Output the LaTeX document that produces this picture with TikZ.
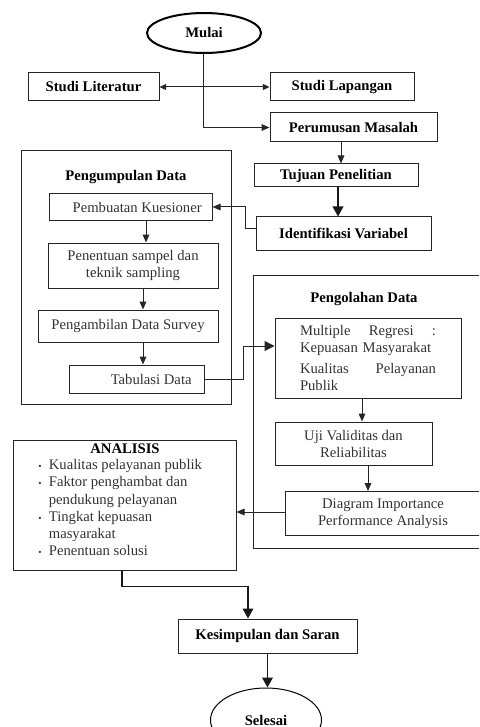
\documentclass[tikz,border=0pt]{standalone}
\usepackage{fontspec}
\setmainfont{Liberation Serif}
\usetikzlibrary{arrows.meta,shapes.geometric,calc}
\begin{document}
\begin{tikzpicture}[x=0.75pt,y=-0.75pt,
  every node/.style={font=\fontsize{11}{12.75}\selectfont},
  box/.style 2 args={draw=black!85, line width=0.75pt, minimum width=#1*0.75pt, minimum height=#2*0.75pt, inner sep=0pt, align=center},
  oval/.style 2 args={ellipse, draw=black, minimum width=#1*0.75pt, minimum height=#2*0.75pt, inner sep=0pt},
  bf/.style={font=\fontsize{11}{12.75}\selectfont\bfseries, text=black},
  rg/.style={text=black!80},
  ln/.style={draw=black!85, line width=0.75pt},
  arr/.style={ln, -{Triangle[length=6pt,width=5pt]}},
  darr/.style={ln, {Triangle[length=5pt,width=4.5pt]}-{Triangle[length=5pt,width=4.5pt]}},
  bigtip/.style={ln, -{Triangle[length=7.5pt,width=7.5pt]}},
  tarr/.style={draw=black!90, line width=1.1pt, -{Triangle[length=7.5pt,width=8pt]}},
]
\useasboundingbox (0,0) rectangle (479,727);
\clip (0,0) rectangle (479,727);

% top part
\node[oval={114}{40}, line width=1.5pt, bf] (start) at (204,33) {Mulai};
\node[box={131}{28}, bf] (SL) at (93.5,87) {Studi Literatur};
\node[box={144}{28}, bf] (SP) at (342,87) {Studi Lapangan};
\node[box={167}{29}, bf] (PM) at (353.5,127.5) {Perumusan Masalah};
\node[box={164}{23}, bf] (TP) at (336,175.5) {Tujuan Penelitian};
\node[box={175}{33}, bf] (IV) at (343.5,233.5) {Identifikasi Variabel};

% Pengumpulan Data group
\node[box={210}{253}] (G1) at (126,277.5) {};
\node[bf] (G1t) at (126,177) {Pengumpulan Data};
\node[box={163}{26}, rg] (PK) at (130.5,207) {\hspace*{10pt}Pembuatan Kuesioner};
\node[box={170}{45}, rg] (PS) at (133,265.5) {Penentuan sampel dan\\teknik sampling};
\node[box={180}{32}, rg] (PDS) at (128,326) {Pengambilan Data Survey};
\node[box={135}{28}, rg] (TD) at (136.5,379) {\hspace*{22pt}Tabulasi Data};

% Pengolahan Data group
\node[box={237}{273}] (G2) at (371.5,411.5) {};
\node[bf] (G2t) at (364,299) {Pengolahan Data};
\node[box={186}{80}, rg, align=left, text width=102pt] (MR) at (368,358)
  {Multiple\hfill Regresi\hfill :\\ Kepuasan Masyarakat\\[3pt] Kualitas\hfill Pelayanan\\ Publik};
\node[box={157}{43}, rg] (UV) at (353.5,443.5) {Uji Validitas dan\\Reliabilitas};
\node[box={196}{44}, rg] (DI) at (383,513.5) {Diagram Importance\\Performance Analysis};

% Analisis
\node[box={223}{130}] (AN) at (124.5,505) {};
\node[bf] (ANt) at (125,449) {ANALISIS};
\node[rg, anchor=base west, inner sep=0pt, font=\fontsize{11}{12.9}\selectfont] (ANl) at (38,469.7)
  {\begin{tabular}[t]{@{}l@{\hspace{5.5pt}}l@{}}
   {\scriptsize\textbullet} & Kualitas pelayanan publik\\
   {\scriptsize\textbullet} & Faktor penghambat dan\\
    & pendukung pelayanan\\
   {\scriptsize\textbullet} & Tingkat kepuasan\\
    & masyarakat\\
   {\scriptsize\textbullet} & Penentuan solusi
   \end{tabular}};

% bottom
\node[box={179}{34}, bf] (KS) at (267.5,636) {Kesimpulan dan Saran};
\node[oval={111}{64}, line width=0.75pt, bf] (SE) at (266,720) {Selesai};

% connectors
\draw[arr] ($(start.south)+(-1,0)$) |- (PM.west);
\draw[darr] (SL.east) -- (SP.west);
\draw[arr] ($(PM.south)+(-12.5,0)$) coordinate (a1) -- (a1 |- TP.north);
\draw[tarr] ($(TP.south)+(2,0)$) coordinate (a2) -- (a2 |- IV.north);
\draw[arr] ($(IV.west)+(0,-5.5)$) -- ++(-10,0) |- (PK.east);
\draw[arr] ($(PK.south)+(15.5,0)$) coordinate (a3) -- (a3 |- PS.north);
\draw[arr] ($(PS.south)+(10,0)$) coordinate (a4) -- (a4 |- PDS.north);
\draw[arr] ($(PDS.south)+(15,0)$) coordinate (a5) -- (a5 |- TD.north);
\draw[bigtip] (TD.east) -- ++(39,0) |- ($(MR.west)+(0,-12)$);
\draw[arr] ($(MR.south)+(-6,0)$) coordinate (a6) -- (a6 |- UV.north);
\draw[arr] ($(UV.south)+(14.5,0)$) coordinate (a7) -- (a7 |- DI.north);
\draw[arr] ($(DI.west)+(0,-1.5)$) coordinate (a8) -- (a8 -| AN.east);
\draw[tarr] ($(AN.south)+(-2.5,0)$) -- ++(0,16) -| ($(KS.north)+(-19.5,0)$);
\draw[tarr] (KS.south) -- (KS.south |- SE.north);
\end{tikzpicture}
\end{document}
